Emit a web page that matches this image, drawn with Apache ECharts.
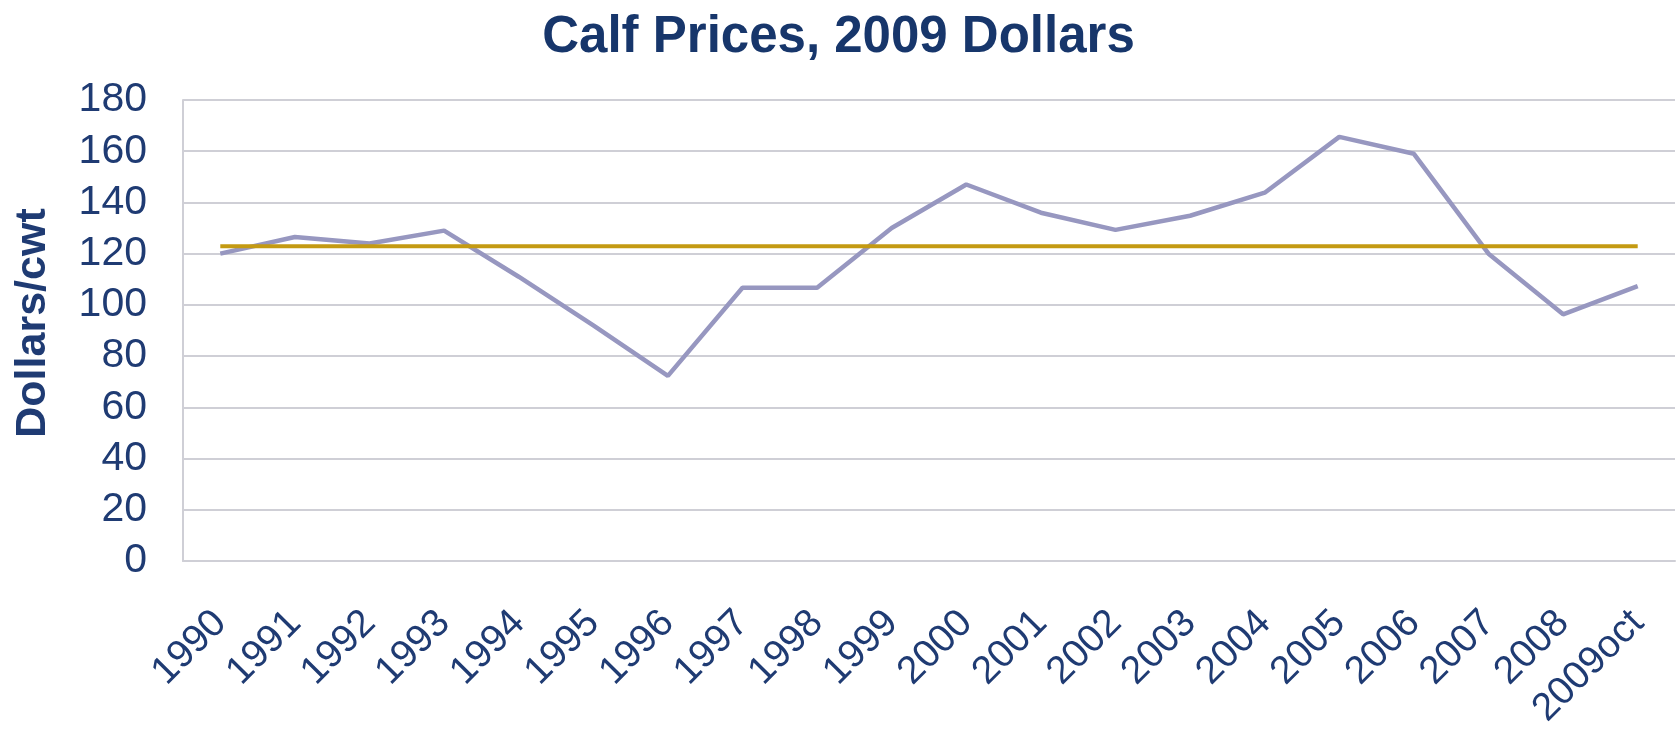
<!DOCTYPE html>
<html>
<head>
<meta charset="utf-8">
<title>Calf Prices, 2009 Dollars</title>
<script src="https://cdn.jsdelivr.net/npm/echarts@6/dist/echarts.min.js"></script>
<style>
  html, body { margin: 0; padding: 0; background: #fff; }
  #chart { width: 1677px; height: 733px; }
</style>
</head>
<body>
<div id="chart"></div>
<script>
// years along the bottom
var years = ['1990', '1991', '1992', '1993', '1994', '1995', '1996', '1997', '1998', '1999',
             '2000', '2001', '2002', '2003', '2004', '2005', '2006', '2007', '2008', '2009oct'];
// calf price, dollars/cwt (2009 dollars)
var calfPrice = [120, 126.5, 124, 129, 111, 92, 72.3, 106.7, 106.7, 130,
                 147, 136, 129.3, 134.8, 143.8, 165.6, 159, 120, 96.3, 107.3];
// long-run average line
var avgPrice = [122.9, 122.9, 122.9, 122.9, 122.9, 122.9, 122.9, 122.9, 122.9, 122.9,
                122.9, 122.9, 122.9, 122.9, 122.9, 122.9, 122.9, 122.9, 122.9, 122.9];
// y ticks
var yMin = 0, yMax = 180, yStep = 20;

var navy = '#1F3B73';
var chart = echarts.init(document.getElementById('chart'));

var option = {
	animation: false,
	backgroundColor: '#fff',
	title: {
		text: 'Calf Prices, 2009 Dollars',
		left: 'center',
		top: 7,
		textStyle: {
			fontFamily: 'Liberation Sans',
			fontSize: 51,
			fontWeight: 'bold',
			color: '#17366B'
		}
	},
	grid: {
		left: 183,
		right: 2,
		top: 100,
		bottom: 172,
		containLabel: false
	},
	xAxis: {
		type: 'category',
		data: years,
		boundaryGap: true,
		axisLine: { show: true, lineStyle: { color: '#CFCFD6', width: 2 } },
		axisTick: { show: false },
		axisLabel: {
			rotate: 45,
			margin: 56,
			interval: 0,
			fontFamily: 'Liberation Sans',
			fontSize: 39,
			color: navy
		}
	},
	yAxis: {
		type: 'value',
		min: yMin,
		max: yMax,
		interval: yStep,
		name: 'Dollars/cwt',
		nameLocation: 'middle',
		nameGap: 128,
		nameTextStyle: {
			fontFamily: 'Liberation Sans',
			fontSize: 43,
			fontWeight: 'bold',
			color: navy,
			padding: [0, 0, 0, 15]
		},
		axisLine: { show: true, lineStyle: { color: '#CFCFD6', width: 2 } },
		axisTick: { show: false },
		splitLine: { show: true, lineStyle: { color: '#CFCFD6', width: 2 } },
		axisLabel: {
			margin: 36,
			fontFamily: 'Liberation Sans',
			fontSize: 41,
			color: navy
		}
	},
	series: [
		{
			name: 'Calf price',
			type: 'line',
			data: calfPrice,
			symbol: 'none',
			lineStyle: { color: '#9797C0', width: 4.5 },
			itemStyle: { color: '#9797C0' },
			z: 2
		},
		{
			name: 'Average',
			type: 'line',
			data: avgPrice,
			symbol: 'none',
			lineStyle: { color: '#C49A12', width: 4 },
			itemStyle: { color: '#C49A12' },
			z: 3
		}
	]
};

chart.setOption(option);
</script>
</body>
</html>
